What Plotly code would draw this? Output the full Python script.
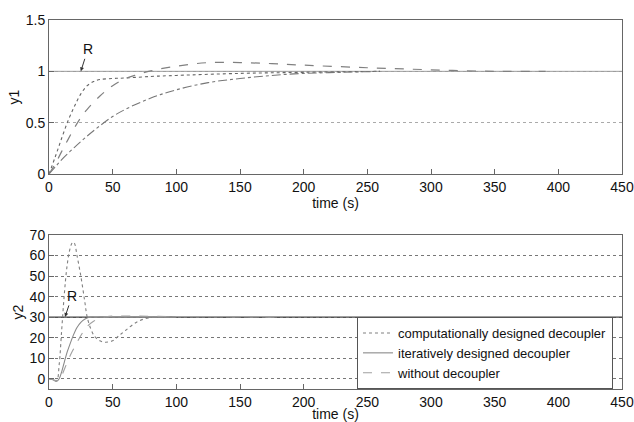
import plotly.graph_objects as go
from plotly.subplots import make_subplots

# ---- data ----
# y1 responses
t1_comp = [0, 5, 10, 15, 20, 25, 30, 35, 40, 50, 60, 80, 100, 150, 200, 260]
y1_comp = [0, 0.17, 0.35, 0.52, 0.66, 0.78, 0.86, 0.90, 0.92, 0.93, 0.935, 0.95, 0.96, 0.98, 0.99, 1.0]

t1_iter = [0, 5, 10, 20, 30, 40, 50, 60, 80, 100, 125, 150, 175, 200, 230, 260]
y1_iter = [0, 0.07, 0.14, 0.26, 0.37, 0.47, 0.56, 0.63, 0.74, 0.82, 0.89, 0.93, 0.96, 0.98, 0.99, 1.0]

t1_wo = [0, 5, 10, 20, 25, 30, 40, 50, 60, 70, 80, 100, 125, 150, 175, 200, 250, 300, 350, 390]
y1_wo = [0, 0.1, 0.22, 0.45, 0.55, 0.63, 0.76, 0.86, 0.93, 0.97, 1.005, 1.05, 1.085, 1.085, 1.075, 1.06, 1.035, 1.015, 1.0, 1.0]

# y2 responses
t2_comp = [0, 3, 6, 8, 10, 12, 14, 16, 18, 19, 20, 22, 25, 28, 30, 33, 36, 40, 44, 50, 55, 60, 70, 80, 90, 100]
y2_comp = [0, -0.5, -1, 7, 24, 41, 54, 62, 66, 66.5, 66, 60, 50, 38, 30, 24, 20.5, 18.5, 17.8, 18.5, 21, 23.5, 28, 29.8, 30, 30]

t2_iter = [0, 3, 6, 8, 10, 12, 14, 16, 19, 22, 25, 28, 31, 34, 37, 40, 50, 100]
y2_iter = [0, -0.5, -1.2, 0, 3.5, 8, 12.5, 16, 21, 25, 27.5, 29, 29.8, 30, 29.9, 30, 30, 30]

t2_wo = [0, 3, 6, 8, 10, 12, 15, 18, 21, 24, 27, 30, 35, 40, 45, 50, 100, 177]
y2_wo = [0, -0.4, -1, -0.5, 1.5, 4.5, 9, 13, 16.5, 20, 23, 25.5, 28, 29.5, 30.2, 30.5, 30.3, 30]

t_ref = [0, 450]
r1 = [1, 1]
r2 = [30, 30]

names = ["computationally designed decoupler", "iteratively designed decoupler", "without decoupler"]
x_ticks = [0, 50, 100, 150, 200, 250, 300, 350, 400, 450]
y1_ticks = [0, 0.5, 1, 1.5]
y1_ticklabels = ["0", "0.5", "1", "1.5"]
y2_ticks = [0, 10, 20, 30, 40, 50, 60, 70]

# ---- figure ----
fig = make_subplots(rows=2, cols=1, vertical_spacing=0.1654)

FONT = "Arial, Liberation Sans, sans-serif"

# reference lines
fig.add_trace(go.Scatter(x=t_ref, y=r1, mode="lines", line=dict(color="#9a9a9a", width=1),
                         showlegend=False, hoverinfo="skip"), row=1, col=1)
fig.add_trace(go.Scatter(x=t_ref, y=r2, mode="lines", line=dict(color="#444444", width=1.2),
                         showlegend=False, hoverinfo="skip"), row=2, col=1)

# top
fig.add_trace(go.Scatter(x=t1_comp, y=y1_comp, mode="lines", line=dict(color="#666666", width=1.1, dash="dot", shape="spline"),
                         showlegend=False), row=1, col=1)
fig.add_trace(go.Scatter(x=t1_iter, y=y1_iter, mode="lines", line=dict(color="#777777", width=1.1, dash="dashdot", shape="spline"),
                         showlegend=False), row=1, col=1)
fig.add_trace(go.Scatter(x=t1_wo, y=y1_wo, mode="lines", line=dict(color="#808080", width=1.2, dash="dash", shape="spline"),
                         showlegend=False), row=1, col=1)

# bottom
fig.add_trace(go.Scatter(x=t2_comp, y=y2_comp, mode="lines", name=names[0],
                         line=dict(color="#808080", width=1.1, dash="dot", shape="spline")), row=2, col=1)
fig.add_trace(go.Scatter(x=t2_iter, y=y2_iter, mode="lines", name=names[1],
                         line=dict(color="#8a8a8a", width=1.1, shape="spline")), row=2, col=1)
fig.add_trace(go.Scatter(x=t2_wo, y=y2_wo, mode="lines", name=names[2],
                         line=dict(color="#a0a0a0", width=1.1, dash="dash", shape="spline")), row=2, col=1)

axis_common = dict(showline=True, linecolor="#666666", linewidth=1, mirror=True,
                   ticks="inside", ticklen=5, tickcolor="#666666", automargin=False,
                   tickfont=dict(family=FONT, size=14, color="#111111"), zeroline=False)

fig.update_xaxes(range=[0, 450], tickvals=x_ticks, showgrid=False,
                 title=dict(text="time (s)", font=dict(family=FONT, size=14, color="#111111"), standoff=0),
                 **axis_common)
fig.update_yaxes(range=[0, 1.5], tickvals=y1_ticks, ticktext=y1_ticklabels, showgrid=True,
                 gridcolor="#aaaaaa", griddash="dot", gridwidth=1,
                 title=dict(text="y1", font=dict(family=FONT, size=14, color="#111111"), standoff=2),
                 row=1, col=1, **axis_common)
fig.update_yaxes(range=[-5, 70], tickvals=y2_ticks, showgrid=True,
                 gridcolor="#777777", griddash="dot", gridwidth=1,
                 title=dict(text="y2", font=dict(family=FONT, size=14, color="#111111"), standoff=2),
                 row=2, col=1, **axis_common)

fig.update_layout(
    width=634, height=422,
    margin=dict(l=49, r=12, t=20, b=33),
    paper_bgcolor="white", plot_bgcolor="white",
    font=dict(family=FONT, size=14, color="#111111"),
    legend=dict(x=0.5375, y=0, xanchor="left", yanchor="bottom",
                bgcolor="white", bordercolor="#555555", borderwidth=1,
                font=dict(family=FONT, size=13, color="#111111"),
                tracegroupgap=0, itemwidth=30),
    annotations=[
        dict(x=25, y=1.0, xref="x", yref="y", text="R", showarrow=True, arrowhead=2, arrowsize=0.8,
             arrowwidth=1, arrowcolor="#333333", ax=7, ay=-22, font=dict(family=FONT, size=14, color="#111111")),
        dict(x=12.6, y=30.1, xref="x2", yref="y2", text="R", showarrow=True, arrowhead=2, arrowsize=0.8,
             arrowwidth=1, arrowcolor="#333333", ax=7, ay=-21, font=dict(family=FONT, size=14, color="#111111")),
    ],
)

fig.write_html("out.html", config={"displayModeBar": False},
               post_script="document.body.style.margin='0';document.body.style.overflow='hidden';")
